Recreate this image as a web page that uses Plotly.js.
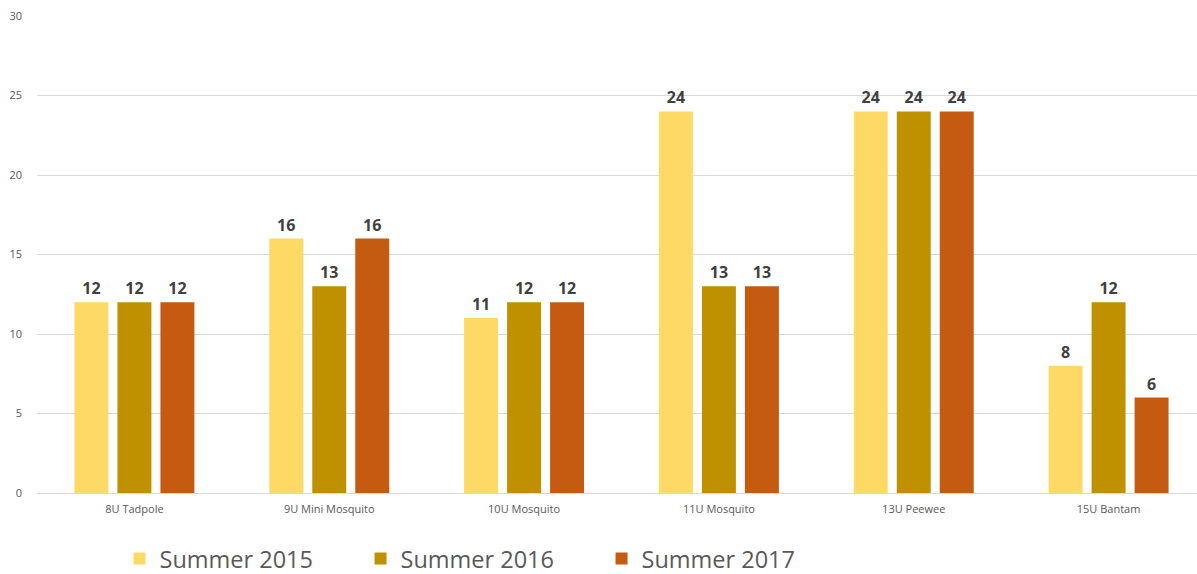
<!DOCTYPE html>
<html>
<head>
<meta charset="utf-8">
<script src="https://cdn.plot.ly/plotly-3.0.1.min.js"></script>
<style>html,body{margin:0;padding:0;background:#fff;overflow:hidden;}#chart{width:1206px;height:574px;}</style>
</head>
<body>
<div id="chart"></div>
<script>
const categories = ["8U Tadpole", "9U Mini Mosquito", "10U Mosquito", "11U Mosquito", "13U Peewee", "15U Bantam"];
const seriesNames = ["Summer 2015", "Summer 2016", "Summer 2017"];
const summer2015 = [12, 16, 11, 24, 24, 8];
const summer2016 = [12, 13, 12, 13, 24, 12];
const summer2017 = [12, 16, 12, 13, 24, 6];
const yTicks = [0, 5, 10, 15, 20, 25, 30];

const colors = ["#FFD966", "#BF9000", "#C55A11"];
const seriesValues = [summer2015, summer2016, summer2017];
const FONT = "Open Sans, Liberation Sans, sans-serif";

const traces = seriesValues.map((vals, i) => ({
  type: "bar",
  name: seriesNames[i],
  x: categories,
  y: vals,
  marker: {color: colors[i]},
  text: vals.map(String),
  textposition: "outside",
  cliponaxis: false,
  textfont: {family: FONT, size: 16, color: "#404040", weight: "bold"},
  hoverinfo: "x+y+name"
}));

const layout = {
  width: 1206, height: 574,
  margin: {l: 37, r: 0, t: 16, b: 81, autoexpand: false},
  paper_bgcolor: "#fff", plot_bgcolor: "#fff",
  barmode: "group",
  bargap: 0.338,
  bargroupgap: 0.21,
  font: {family: FONT, color: "#595959"},
  xaxis: {
    type: "category",
    showgrid: false,
    showline: true,
    linecolor: "#d9d9d9",
    linewidth: 1,
    ticks: "",
    tickfont: {size: 11, color: "#595959"},
    ticklabelstandoff: 6,
    zeroline: false
  },
  yaxis: {
    range: [0, 30],
    tickvals: yTicks,
    ticktext: yTicks.map(String),
    showgrid: true,
    gridcolor: "#d9d9d9",
    gridwidth: 1,
    zeroline: false,
    showline: false,
    ticks: "",
    tickfont: {size: 11, color: "#595959"},
    ticklabelstandoff: 14
  },
  showlegend: true,
  legend: {
    orientation: "h",
    x: 0.0706, xanchor: "left",
    y: -0.138, yanchor: "middle",
    font: {size: 23.5, color: "#595959", family: FONT},
    entrywidth: 196,
    entrywidthmode: "pixels",
    traceorder: "normal",
    itemclick: false
  }
};

Plotly.newPlot("chart", traces, layout, {displayModeBar: false, staticPlot: true});
</script>
</body>
</html>
